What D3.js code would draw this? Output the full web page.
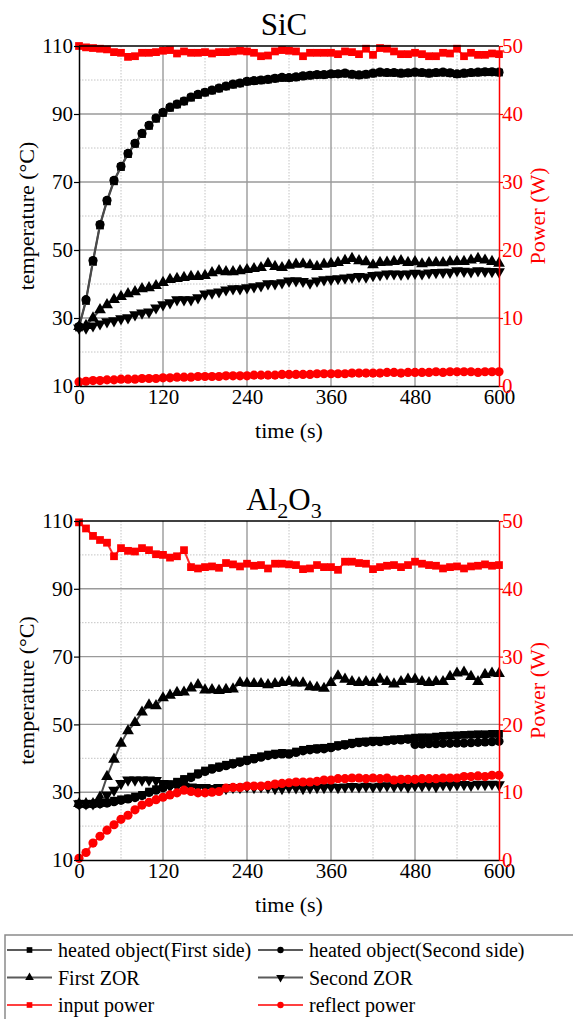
<!DOCTYPE html>
<html>
<head>
<meta charset="utf-8">
<script src="https://cdn.jsdelivr.net/npm/d3@7"></script>
<style>
  body { margin: 0; background: #fff; }
  svg { display: block; }
  text { font-family: "Liberation Serif", "Times New Roman", serif; }
</style>
</head>
<body>
<div id="chart"></div>
<script>
// time axis (s), one reading every 10 s
const time = [0,10,20,30,40,50,60,70,80,90,100,110,120,130,140,150,160,170,180,190,200,
  210,220,230,240,250,260,270,280,290,300,310,320,330,340,350,360,370,380,390,400,
  410,420,430,440,450,460,470,480,490,500,510,520,530,540,550,560,570,580,590,600];

const tempTicks = [10, 30, 50, 70, 90, 110];
const tempMinor = [20, 40, 60, 80, 100];
const powerTicks = [0, 10, 20, 30, 40, 50];
const timeTicks = [0, 120, 240, 360, 480, 600];
const timeMinor = [60, 180, 300, 420, 540];

// ---- SiC ----
const sicFirstSide = [27.2,35.0,46.5,57.2,64.3,70.2,74.4,78.2,81.2,84.1,86.5,88.6,90.3,91.8,92.8,93.7,94.8,95.6,96.3,96.9,97.5,
  98.1,98.6,99.0,99.5,99.7,99.9,100.1,100.4,100.6,100.6,100.8,101.1,101.3,101.5,101.5,101.7,101.8,101.9,101.6,101.4,
  101.6,101.9,102.2,102.1,102.1,101.9,102.0,102.2,102.1,101.9,102.1,102.2,102.0,101.7,101.9,102.1,102.2,102.3,102.3,102.2];
const sicSecondSide = [27.5,35.4,46.9,57.5,64.6,70.5,74.6,78.4,81.4,84.3,86.7,88.8,90.5,92.0,92.9,93.8,95.0,95.8,96.4,97.0,97.6,
  98.2,98.8,99.1,99.6,99.8,100.0,100.2,100.5,100.8,100.7,100.9,101.2,101.4,101.6,101.6,101.8,101.8,102.0,101.7,101.5,
  101.7,102.0,102.3,102.2,102.2,102.0,102.1,102.3,102.2,102.0,102.2,102.3,102.1,101.8,102.0,102.2,102.3,102.4,102.4,102.3];
const sicFirstZOR = [27.5,27.8,30.0,32.4,33.9,35.4,36.3,37.1,37.7,38.6,38.9,39.5,40.4,41.3,41.6,41.9,42.2,42.2,42.5,43.3,43.9,
  43.6,43.6,43.9,44.2,44.5,44.8,46.0,45.1,44.8,45.5,45.8,45.9,45.6,45.1,45.8,46.0,46.3,46.9,47.5,46.8,
  46.5,45.6,46.3,46.4,46.6,46.8,46.3,46.5,45.9,46.2,46.3,46.2,46.5,46.6,46.6,47.0,47.5,47.0,46.6,46.1];
const sicSecondZOR = [27.1,27.1,27.7,28.3,28.9,29.2,29.8,30.1,31.0,31.5,31.8,33.0,33.9,34.5,35.4,35.4,35.4,36.0,37.1,37.4,37.7,
  38.3,38.6,38.6,38.9,39.2,39.5,40.1,40.1,40.4,40.9,41.0,40.8,40.3,40.9,41.3,41.4,41.6,41.8,42.0,42.2,
  42.1,42.5,42.7,43.0,43.0,42.9,43.0,43.2,43.0,43.3,43.4,43.5,43.5,43.9,43.8,43.6,43.9,43.8,43.7,43.6];
const sicInputPower = [50.0,49.8,49.7,49.6,49.5,49.1,49.0,48.4,48.5,49.0,49.0,49.1,49.3,49.4,48.9,49.2,49.0,49.0,49.1,48.9,49.1,
  49.1,49.2,49.3,49.2,49.0,48.5,48.6,49.2,49.4,49.3,49.2,48.5,49.0,49.0,49.0,49.0,48.8,49.2,49.1,48.8,
  49.6,48.7,49.7,49.6,49.2,48.8,48.8,49.0,48.8,48.5,48.5,49.0,48.9,49.6,48.5,49.0,48.7,48.7,48.9,48.8];
const sicReflectPower = [0.6,0.7,0.8,0.8,0.9,0.9,1.0,1.0,1.0,1.1,1.1,1.1,1.2,1.2,1.3,1.3,1.3,1.4,1.4,1.4,1.4,
  1.5,1.5,1.5,1.5,1.6,1.6,1.6,1.6,1.7,1.7,1.7,1.7,1.7,1.8,1.8,1.8,1.8,1.8,1.9,1.9,
  1.9,1.9,1.9,2.0,2.0,1.9,2.0,2.0,2.0,2.0,2.1,2.0,2.1,2.1,2.1,2.1,2.0,2.1,2.1,2.1];

// ---- Al2O3 ----
const alFirstSide = [26.6,26.6,26.6,26.8,27.0,27.5,27.9,28.2,28.7,29.2,30.2,30.9,31.6,32.4,33.1,33.9,34.6,35.6,36.4,37.1,37.6,
  38.1,38.6,39.1,39.6,40.1,40.6,41.1,41.4,41.6,41.5,42.0,42.5,42.8,43.0,43.1,43.4,43.9,44.2,44.6,44.9,
  45.0,45.2,45.2,45.4,45.6,45.7,45.9,46.1,46.2,46.2,46.4,46.6,46.7,46.8,46.9,47.0,47.1,47.1,47.2,47.2];
const alSecondSide = [26.4,26.4,26.5,26.6,26.8,27.2,27.6,28.0,28.4,29.0,29.9,30.6,31.3,32.1,32.8,33.6,34.3,35.3,36.1,36.8,37.3,
  37.8,38.3,38.8,39.3,39.8,40.3,40.8,41.1,41.3,41.2,41.7,42.2,42.5,42.7,42.8,43.1,43.6,43.9,44.3,44.6,
  44.7,44.9,44.9,45.1,45.3,45.4,45.6,44.1,44.2,44.3,44.3,44.4,44.4,44.5,44.5,44.6,44.7,44.8,44.9,45.0];
const alFirstZOR = [26.6,26.6,26.6,28.5,34.6,39.7,44.4,48.1,50.5,53.6,55.7,55.5,57.8,58.6,59.4,59.5,60.7,61.7,60.1,60.2,60.0,
  60.3,60.4,62.3,62.1,62.0,62.0,61.7,62.0,62.3,62.6,62.2,62.2,61.1,60.9,60.6,62.3,64.3,63.3,62.6,62.3,
  62.6,62.3,63.3,62.6,61.9,62.6,63.3,63.3,62.6,62.3,62.6,62.6,64.1,65.1,65.4,64.1,62.6,64.7,65.1,65.0];
const alSecondZOR = [26.6,26.6,26.6,27.0,29.2,30.6,32.6,33.6,33.6,33.6,33.6,33.5,32.6,31.8,31.8,31.8,31.6,31.4,31.4,31.1,31.4,
  31.1,31.4,31.4,31.6,31.4,31.6,31.4,31.1,31.1,31.4,31.3,31.1,31.3,31.4,31.4,31.6,31.4,31.6,31.7,31.6,
  31.8,31.6,31.8,31.9,31.8,31.9,31.6,32.0,31.9,32.1,31.7,32.2,32.1,32.2,32.3,32.1,32.4,32.3,32.4,32.2];
const alInputPower = [49.8,48.9,47.8,47.2,46.8,44.8,46.0,45.6,45.5,46.0,45.7,45.1,45.0,44.6,44.8,45.7,43.2,43.0,43.2,43.3,43.1,
  43.8,43.6,43.3,43.7,43.4,43.5,43.0,43.7,43.7,43.6,43.5,42.9,43.0,43.5,43.2,43.2,42.8,44.0,44.0,43.8,
  43.7,42.9,43.2,43.4,43.5,43.2,43.5,44.0,43.7,43.5,43.4,43.0,43.2,43.3,43.0,43.3,43.4,43.6,43.4,43.5];
const alReflectPower = [0.25,1.1,2.5,3.5,4.4,5.2,6.0,6.6,7.4,8.1,8.5,8.9,9.25,9.6,9.9,10.3,10.1,9.9,9.9,10.0,10.1,
  10.6,10.7,10.7,10.9,10.9,10.9,11.0,11.2,11.3,11.4,11.5,11.5,11.5,11.6,11.8,11.8,12.0,12.0,12.1,12.1,
  12.0,12.1,12.0,12.1,11.8,11.9,11.9,11.9,12.0,12.0,12.0,12.1,12.1,12.1,12.3,12.3,12.4,12.3,12.5,12.5];

const seriesNames = ["heated object(First side)", "heated object(Second side)", "First ZOR",
  "Second ZOR", "input power", "reflect power"];

const W = 573, H = 1019;
const plotLeft = 79, plotRight = 499;
const black = "#000", lineGray = "#4a4a4a", red = "#ff0000", lineRed = "#ff2a2a";

const svg = d3.select("#chart").append("svg")
  .attr("width", W)
  .attr("height", H);

function marker(shape, size) {
  if (shape === "square") return d3.symbol().type(d3.symbolSquare).size(size)();
  if (shape === "circle") return d3.symbol().type(d3.symbolCircle).size(size)();
  return d3.symbol().type(d3.symbolTriangle).size(size)();
}

function drawPanel(top, bottom, title, sets) {
  const x = d3.scaleLinear().domain([0, 600]).range([plotLeft, plotRight]);
  const yT = d3.scaleLinear().domain([10, 110]).range([bottom, top]);
  const yP = d3.scaleLinear().domain([0, 50]).range([bottom, top]);
  const g = svg.append("g");

  // minor grid (dotted)
  g.selectAll(".vminor").data(timeMinor).enter().append("line")
    .attr("x1", d => x(d)).attr("x2", d => x(d)).attr("y1", top).attr("y2", bottom)
    .attr("stroke", "#c4c4c4").attr("stroke-dasharray", "1.5,1.5");
  g.selectAll(".hminor").data(tempMinor).enter().append("line")
    .attr("x1", plotLeft).attr("x2", plotRight).attr("y1", d => yT(d)).attr("y2", d => yT(d))
    .attr("stroke", "#c4c4c4").attr("stroke-dasharray", "1.5,1.5");
  // major grid
  g.selectAll(".vmajor").data(timeTicks.slice(1, -1)).enter().append("line")
    .attr("x1", d => x(d)).attr("x2", d => x(d)).attr("y1", top).attr("y2", bottom)
    .attr("stroke", "#9a9a9a").attr("stroke-width", 1.4);
  g.selectAll(".hmajor").data(tempTicks.slice(1, -1)).enter().append("line")
    .attr("x1", plotLeft).attr("x2", plotRight).attr("y1", d => yT(d)).attr("y2", d => yT(d))
    .attr("stroke", "#9a9a9a").attr("stroke-width", 1.4);

  // series
  sets.forEach(s => {
    const y = s.power ? yP : yT;
    const pts = time.map((t, i) => [x(t), y(s.values[i])]);
    g.append("path")
      .attr("d", d3.line()(pts))
      .attr("fill", "none")
      .attr("stroke", s.power ? lineRed : lineGray)
      .attr("stroke-width", 2);
    g.selectAll(null).data(pts).enter().append("path")
      .attr("d", marker(s.shape, s.size))
      .attr("transform", d => `translate(${d[0]},${d[1]})` + (s.down ? " rotate(180)" : ""))
      .attr("fill", s.power ? red : black);
  });

  // frame and axes
  g.append("line").attr("x1", plotLeft).attr("x2", plotRight).attr("y1", top).attr("y2", top)
    .attr("stroke", black).attr("stroke-width", 1.5);

  const axisStyle = (sel, color) => {
    sel.selectAll("path").attr("stroke", color).attr("stroke-width", 1.5);
    sel.selectAll("line").attr("stroke", color).attr("stroke-width", 1.2);
    sel.selectAll("text").attr("fill", color)
      .style("font-family", '"Liberation Serif", serif').style("font-size", "21px");
  };

  g.append("g").attr("transform", `translate(0,${bottom})`)
    .call(d3.axisBottom(x).tickValues(timeTicks).tickSizeInner(0).tickSizeOuter(0).tickPadding(3))
    .call(sel => axisStyle(sel, black));

  g.append("g").attr("transform", `translate(${plotLeft},0)`)
    .call(d3.axisLeft(yT).tickValues(tempTicks).tickSizeInner(5).tickSizeOuter(0).tickPadding(1))
    .call(sel => axisStyle(sel, black));

  g.append("g").attr("transform", `translate(${plotRight},0)`)
    .call(d3.axisRight(yP).tickValues(powerTicks).tickSizeInner(4).tickSizeOuter(0).tickPadding(-1))
    .call(sel => axisStyle(sel, red));

  // labels
  const mid = (top + bottom) / 2;
  g.append("text")
    .attr("transform", `translate(34,${mid}) rotate(-90)`)
    .attr("text-anchor", "middle")
    .style("font-size", "22px")
    .text("temperature (°C)");
  g.append("text")
    .attr("transform", `translate(545,${mid}) rotate(-90)`)
    .attr("text-anchor", "middle")
    .attr("fill", red)
    .style("font-size", "22px")
    .text("Power (W)");
  g.append("text")
    .attr("x", 289).attr("y", bottom + 52)
    .attr("text-anchor", "middle")
    .style("font-size", "22px")
    .text("time (s)");

  const tt = g.append("text")
    .attr("x", 284).attr("y", top - 11)
    .attr("text-anchor", "middle")
    .style("font-size", "31px");
  title.forEach(p => {
    tt.append("tspan")
      .attr("dy", p.sub ? 8 : (p.back ? -8 : 0))
      .style("font-size", p.sub ? "22px" : "31px")
      .text(p.t);
  });
}

drawPanel(46, 386, [{t: "SiC"}], [
  {values: sicFirstSide, shape: "square", size: 60},
  {values: sicSecondSide, shape: "circle", size: 66},
  {values: sicFirstZOR, shape: "triangle", size: 60},
  {values: sicSecondZOR, shape: "triangle", size: 60, down: true},
  {values: sicInputPower, shape: "square", size: 60, power: true},
  {values: sicReflectPower, shape: "circle", size: 66, power: true}
]);

drawPanel(521, 860, [{t: "Al"}, {t: "2", sub: true}, {t: "O", back: true}, {t: "3", sub: true}], [
  {values: alFirstSide, shape: "square", size: 60},
  {values: alSecondSide, shape: "circle", size: 66},
  {values: alFirstZOR, shape: "triangle", size: 60},
  {values: alSecondZOR, shape: "triangle", size: 60, down: true},
  {values: alInputPower, shape: "square", size: 60, power: true},
  {values: alReflectPower, shape: "circle", size: 66, power: true}
]);

// legend
const legend = svg.append("g");
legend.append("rect")
  .attr("x", 5).attr("y", 935).attr("width", 620).attr("height", 120)
  .attr("fill", "#fff").attr("stroke", "#8a8a8a").attr("stroke-width", 1.5);

const legendShapes = [
  {shape: "square", power: false}, {shape: "circle", power: false},
  {shape: "triangle", power: false}, {shape: "triangle", power: false, down: true},
  {shape: "square", power: true}, {shape: "circle", power: true}
];

seriesNames.forEach((name, i) => {
  const col = i % 2, row = Math.floor(i / 2);
  const lx = col === 0 ? 7 : 258;
  const ly = 950 + row * 27.5;
  const s = legendShapes[i];
  legend.append("line")
    .attr("x1", lx).attr("x2", lx + 45).attr("y1", ly).attr("y2", ly)
    .attr("stroke", s.power ? "#ff4040" : "#5a5a5a").attr("stroke-width", 2);
  legend.append("path")
    .attr("d", marker(s.shape, 32))
    .attr("transform", `translate(${lx + 22.5},${ly})` + (s.down ? " rotate(180)" : ""))
    .attr("fill", s.power ? red : black);
  legend.append("text")
    .attr("x", lx + 51).attr("y", ly + 7)
    .style("font-size", "20px")
    .text(name);
});
</script>
</body>
</html>
